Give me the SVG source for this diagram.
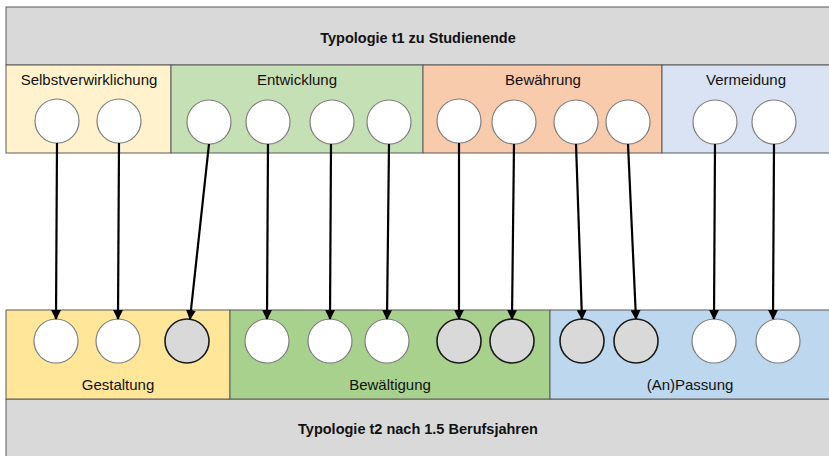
<svg xmlns="http://www.w3.org/2000/svg" width="829" height="456" viewBox="0 0 829 456">
<style>
.band{stroke:#5a5a5a;stroke-width:1}
.t{font-family:"Liberation Sans","Noto Sans",sans-serif;font-size:15px;fill:#111;text-anchor:middle}
.b{font-weight:bold;font-size:14.5px}
.w{fill:#ffffff;stroke:#7f7f7f;stroke-width:1.2}
.g{fill:#d9d9d9;stroke:#1a1a1a;stroke-width:1.6}
.c{stroke:#000;stroke-width:2.2;fill:none;marker-end:url(#ah)}
</style>
<defs>
<marker id="ah" viewBox="0 0 10 10" refX="9" refY="5" markerWidth="4.5" markerHeight="4.5" orient="auto" markerUnits="strokeWidth">
<path d="M0,0 L10,5 L0,10 z" fill="#000"/>
</marker>
</defs>
<rect width="829" height="456" fill="#fff"/>
<g id="top-header">
<rect class="band" x="6" y="7" width="830" height="58" fill="#d9d9d9"/>
<text class="t b" x="418" y="43">Typologie t1 zu Studienende</text>
</g>
<g id="selbstverwirklichung">
<rect class="band" x="6" y="65" width="165" height="88" fill="#fff2cc"/>
<text class="t" x="89" y="85">Selbstverwirklichung</text>
<circle class="w" cx="57" cy="121" r="22"/>
<circle class="w" cx="119" cy="121" r="22"/>
</g>
<g id="entwicklung">
<rect class="band" x="171" y="65" width="252" height="88" fill="#c5e0b4"/>
<text class="t" x="297" y="85">Entwicklung</text>
<circle class="w" cx="209" cy="122" r="22"/>
<circle class="w" cx="268" cy="122" r="22"/>
<circle class="w" cx="332" cy="122" r="22"/>
<circle class="w" cx="389" cy="122" r="22"/>
</g>
<g id="bewaehrung">
<rect class="band" x="423" y="65" width="239" height="88" fill="#f8cbad"/>
<text class="t" x="543" y="85">Bewährung</text>
<circle class="w" cx="459" cy="121" r="22"/>
<circle class="w" cx="514" cy="122" r="22"/>
<circle class="w" cx="576" cy="122" r="22"/>
<circle class="w" cx="628" cy="122" r="22"/>
</g>
<g id="vermeidung">
<rect class="band" x="662" y="65" width="174" height="88" fill="#dae3f3"/>
<text class="t" x="746" y="85">Vermeidung</text>
<circle class="w" cx="715" cy="122" r="22"/>
<circle class="w" cx="774" cy="122" r="22"/>
</g>
<g id="bottom-header">
<rect class="band" x="6" y="399" width="830" height="64" fill="#d9d9d9"/>
<text class="t b" x="418" y="434">Typologie t2 nach 1.5 Berufsjahren</text>
</g>
<g id="gestaltung">
<rect class="band" x="6" y="310" width="224" height="89" fill="#ffe699"/>
<text class="t" x="118" y="390">Gestaltung</text>
<circle class="w" cx="56" cy="341" r="22"/>
<circle class="w" cx="118" cy="341" r="22"/>
<circle class="g" cx="187" cy="341" r="22"/>
</g>
<g id="bewaeltigung">
<rect class="band" x="230" y="310" width="320" height="89" fill="#a9d18e"/>
<text class="t" x="390" y="390">Bewältigung</text>
<circle class="w" cx="267" cy="341" r="22"/>
<circle class="w" cx="330" cy="341" r="22"/>
<circle class="w" cx="387" cy="341" r="22"/>
<circle class="g" cx="459" cy="341" r="22"/>
<circle class="g" cx="512" cy="341" r="22"/>
</g>
<g id="anpassung">
<rect class="band" x="550" y="310" width="286" height="89" fill="#bdd7ee"/>
<text class="t" x="690" y="390">(An)Passung</text>
<circle class="g" cx="582" cy="341" r="22"/>
<circle class="g" cx="636" cy="341" r="22"/>
<circle class="w" cx="714" cy="341" r="22"/>
<circle class="w" cx="778" cy="341" r="22"/>
</g>
<g id="connectors">
<line class="c" x1="57" y1="143" x2="56" y2="319"/>
<line class="c" x1="119" y1="143" x2="118" y2="319"/>
<line class="c" x1="209" y1="144" x2="190" y2="319"/>
<line class="c" x1="268" y1="144" x2="267" y2="319"/>
<line class="c" x1="331" y1="144" x2="330" y2="319"/>
<line class="c" x1="389" y1="144" x2="387" y2="319"/>
<line class="c" x1="459" y1="143" x2="459" y2="319"/>
<line class="c" x1="514" y1="144" x2="512" y2="319"/>
<line class="c" x1="576" y1="144" x2="582" y2="319"/>
<line class="c" x1="628" y1="144" x2="636" y2="319"/>
<line class="c" x1="715" y1="144" x2="714" y2="319"/>
<line class="c" x1="774" y1="144" x2="773" y2="319"/>
</g>
</svg>
